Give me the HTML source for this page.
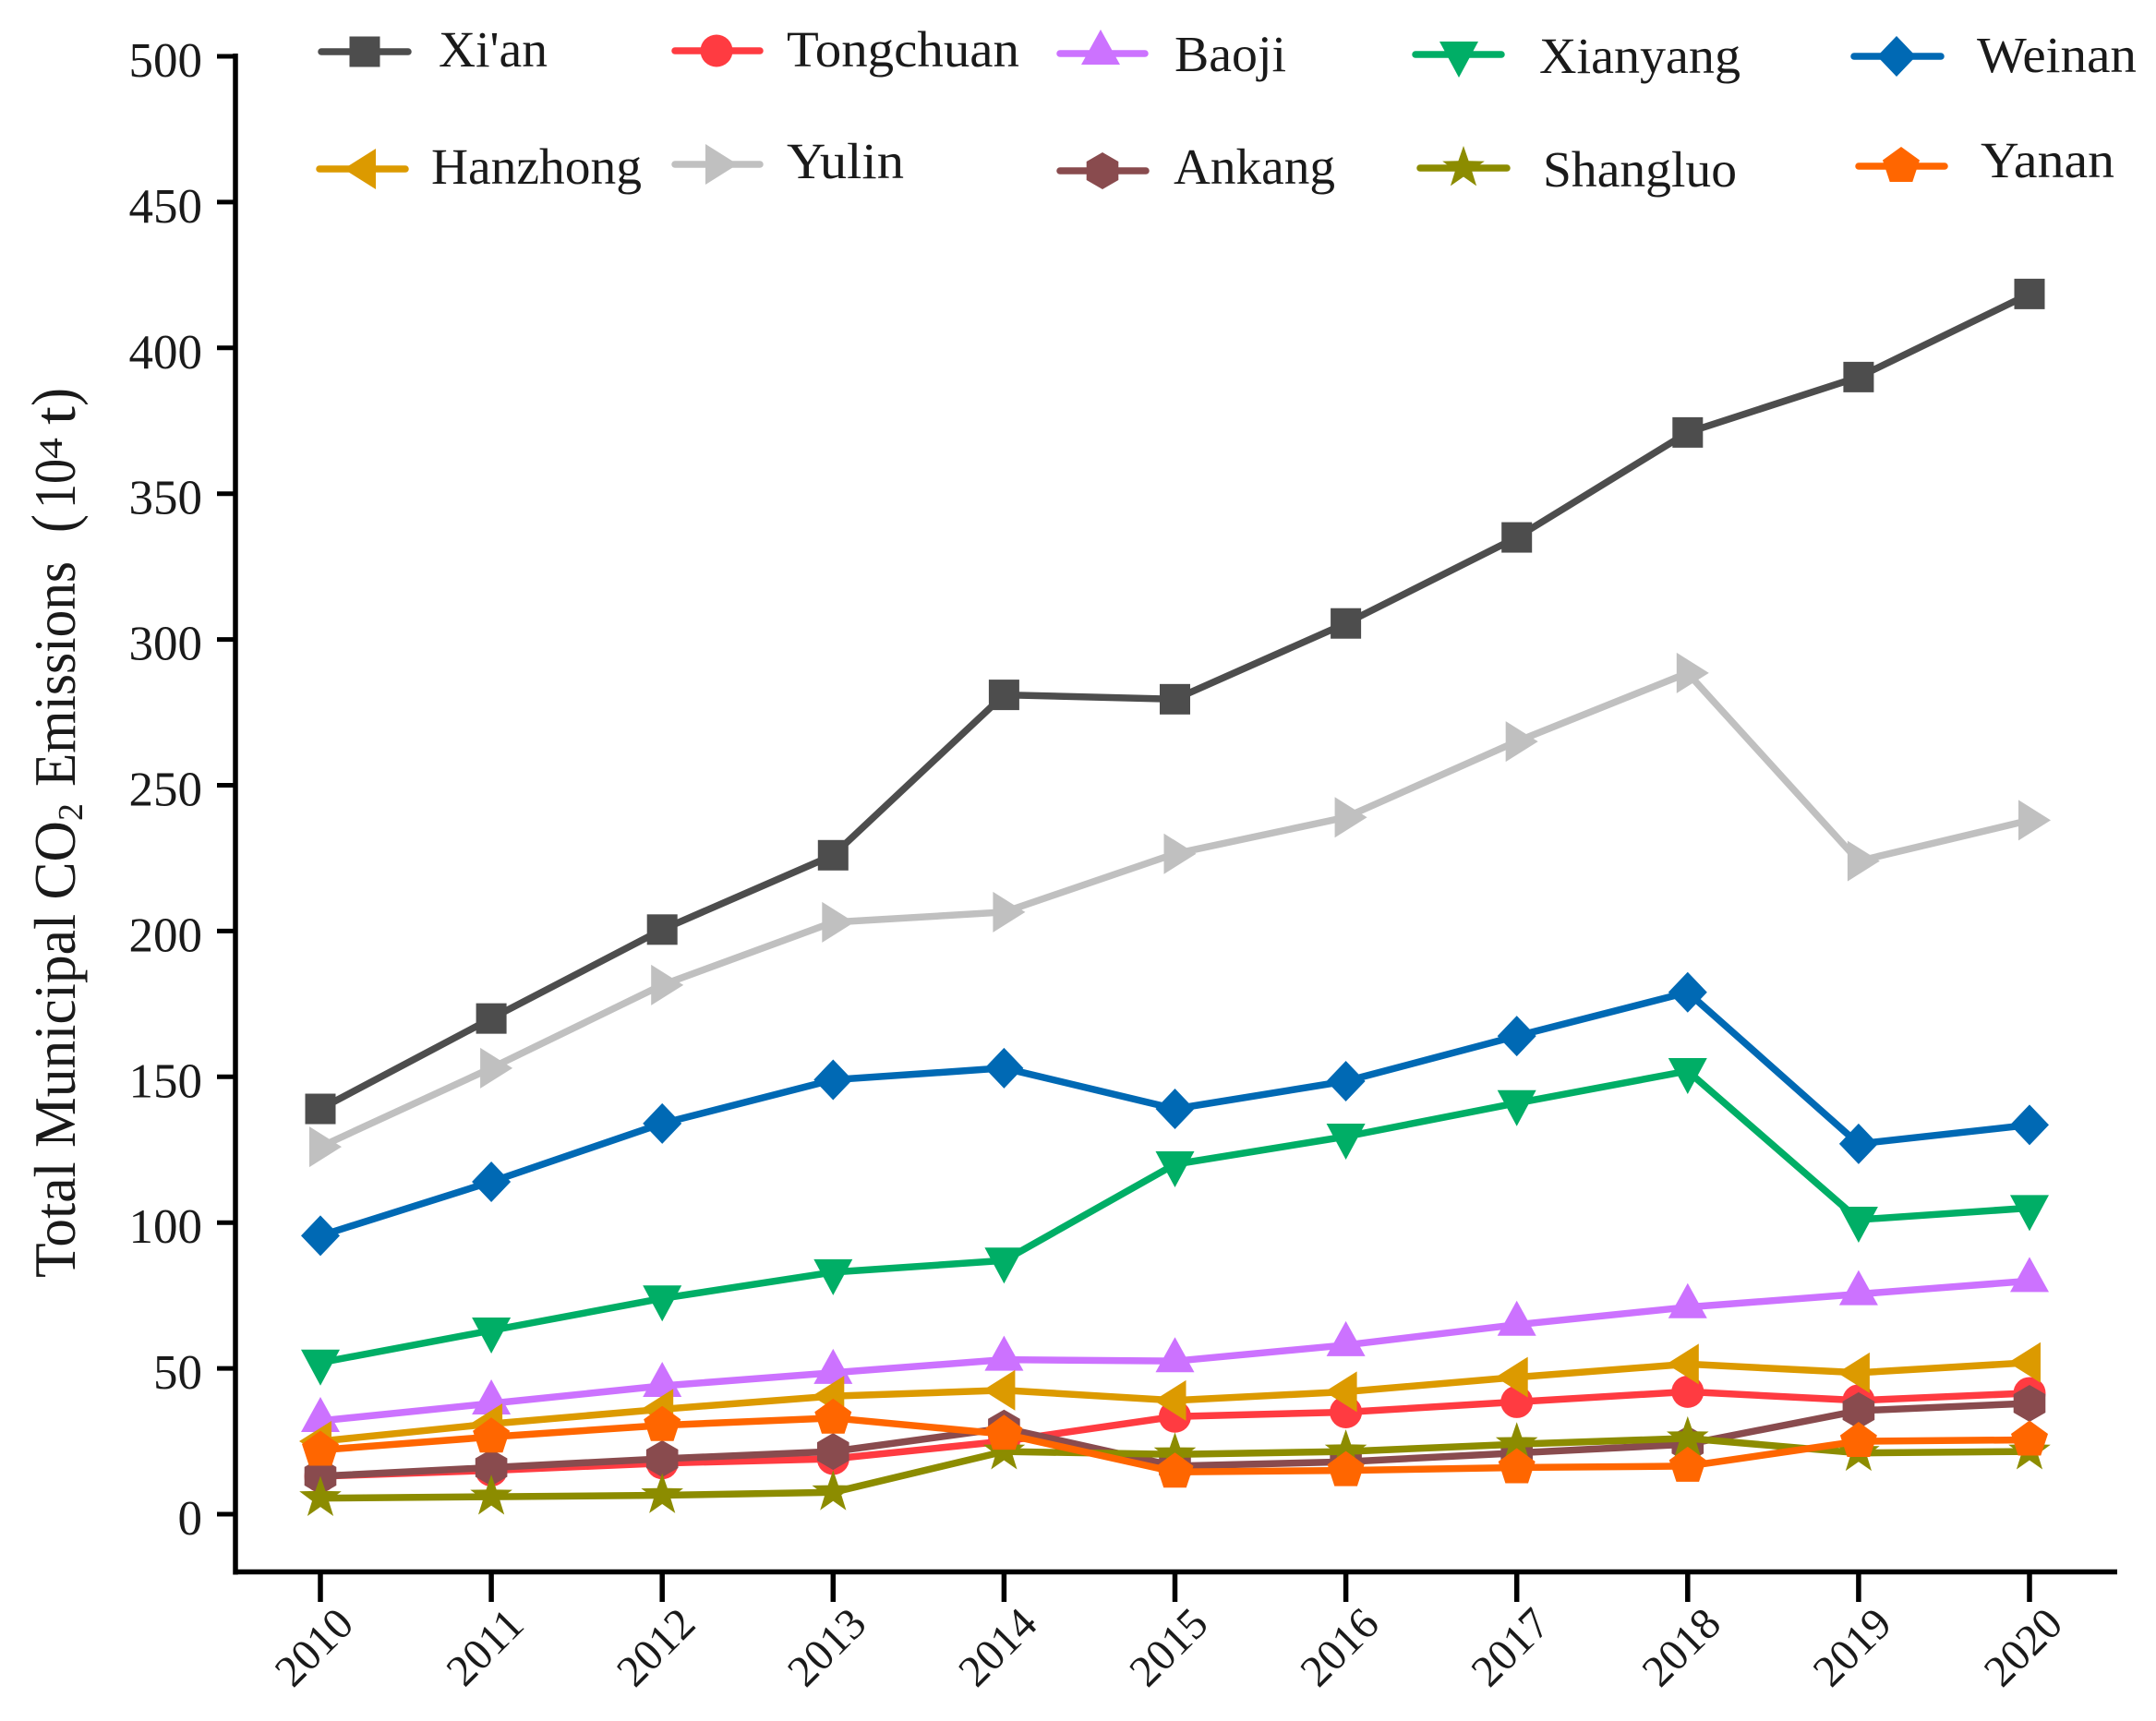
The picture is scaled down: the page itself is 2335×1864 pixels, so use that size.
<!DOCTYPE html>
<html lang="en">
<head>
<meta charset="utf-8">
<title>Total Municipal CO2 Emissions</title>
<style>
  html, body { margin: 0; padding: 0; background: #ffffff; }
  svg { display: block; }
  text { font-family: "Liberation Serif", serif; fill: #1a1a1a; }
</style>
</head>
<body>
<svg id="chart" xmlns="http://www.w3.org/2000/svg" width="2335" height="1864" viewBox="0 0 2335 1864">
  <rect x="0" y="0" width="2335" height="1864" fill="#ffffff"/>
  <g id="axes"></g>
  <g id="series"></g>
  <g id="legend"></g>
  <text transform="translate(81,0) rotate(-90)" font-size="63">
    <tspan x="-1384" textLength="495" lengthAdjust="spacingAndGlyphs">Total Municipal CO</tspan>
    <tspan x="-889" dy="8" font-size="38" textLength="19" lengthAdjust="spacingAndGlyphs">2</tspan>
    <tspan x="-852" dy="-8" textLength="244" lengthAdjust="spacingAndGlyphs">Emissions</tspan>
    <tspan x="-577" font-size="68" textLength="20" lengthAdjust="spacingAndGlyphs">(</tspan>
    <tspan x="-551" textLength="54" lengthAdjust="spacingAndGlyphs">10</tspan>
    <tspan x="-497" dy="-14" font-size="36" textLength="23" lengthAdjust="spacingAndGlyphs">4</tspan>
    <tspan x="-460" dy="14" textLength="20" lengthAdjust="spacingAndGlyphs">t</tspan>
    <tspan x="-440" font-size="68" textLength="20" lengthAdjust="spacingAndGlyphs">)</tspan>
  </text>
</svg>
<script>
const years = [2010, 2011, 2012, 2013, 2014, 2015, 2016, 2017, 2018, 2019, 2020];
const yTicks = [0, 50, 100, 150, 200, 250, 300, 350, 400, 450, 500];
const xian = [139, 170, 200.5, 226, 281, 279.5, 305.5, 335, 371, 390, 418.5];
const tongchuan = [13, 15, 17.5, 19, 25, 33.5, 35, 38.5, 42, 39, 41.5];
const baoji = [32, 38, 44, 48.5, 53, 52.5, 58, 65, 71, 75.5, 80];
const xianyang = [52, 63, 74, 83, 87, 120, 129.5, 141, 152, 101, 105];
const weinan = [95.5, 114, 134, 149, 153, 139, 148.5, 164, 179, 127, 133.5];
const hanzhong = [25, 31, 36, 40.5, 42.5, 39, 42, 47, 51.5, 48.5, 52];
const yulin = [126, 153, 181.5, 203, 206.5, 226.5, 239, 265, 288.5, 224, 238];
const ankang = [13, 16, 19, 21.5, 29.5, 16.5, 18, 21, 24, 35.5, 38];
const shangluo = [5.5, 6, 6.5, 7.5, 21.5, 20.5, 21.5, 24, 26, 21, 21.5];
const yanan = [22, 26.5, 30.5, 33, 27.5, 14.5, 15, 16, 16.5, 25, 25.5];

const NS = 'http://www.w3.org/2000/svg';
const xAxis = year => 347 + (year - 2010) * 185.1;
const yAxis = value => 1640 - value * 3.158;

function make(tag, attrs, parent) {
  const node = document.createElementNS(NS, tag);
  for (const key in attrs) node.setAttribute(key, attrs[key]);
  parent.appendChild(node);
  return node;
}

function polar(cx, cy, radii, count) {
  const pts = [];
  for (let i = 0; i < count; i++) {
    const a = -Math.PI / 2 + i * 2 * Math.PI / count;
    const r = radii[i % radii.length];
    pts.push((cx + r * Math.cos(a)).toFixed(1) + ',' + (cy + r * Math.sin(a)).toFixed(1));
  }
  return pts.join(' ');
}

function drawMarker(kind, cx, cy, color, parent) {
  if (kind === 'square') return make('rect', { x: cx - 16.5, y: cy - 16.5, width: 33, height: 33, fill: color }, parent);
  if (kind === 'circle') return make('circle', { cx: cx, cy: cy, r: 17.5, fill: color }, parent);
  let pts = '';
  if (kind === 'up') pts = `${cx},${cy - 26} ${cx + 21},${cy + 12} ${cx - 21},${cy + 12}`;
  if (kind === 'down') pts = `${cx},${cy + 25} ${cx + 21},${cy - 14} ${cx - 21},${cy - 14}`;
  if (kind === 'left') pts = `${cx - 23},${cy} ${cx + 12},${cy - 22} ${cx + 12},${cy + 22}`;
  if (kind === 'right') pts = `${cx + 23},${cy} ${cx - 12},${cy - 22} ${cx - 12},${cy + 22}`;
  if (kind === 'diamond') pts = `${cx},${cy - 22} ${cx + 21},${cy} ${cx},${cy + 22} ${cx - 21},${cy}`;
  if (kind === 'hexagon') pts = polar(cx, cy, [20], 6);
  if (kind === 'pentagon') pts = polar(cx, cy, [21], 5);
  if (kind === 'star') pts = polar(cx, cy, [24, 9.5], 10);
  return make('polygon', { points: pts, fill: color }, parent);
}

const axes = document.getElementById('axes');

const ySpine = make('line', { x1: 255, y1: 58, x2: 255, y2: 1705.5, stroke: '#000', 'stroke-width': 5.5 }, axes);



const xSpine = make('line', { x1: 252.5, y1: 1702.5, x2: 2293, y2: 1702.5, stroke: '#000', 'stroke-width': 5.5 }, axes);



yTicks.forEach(value => {
  const tick = make('line', { x1: 235, y1: yAxis(value), x2: 255, y2: yAxis(value), stroke: '#000', 'stroke-width': 5 }, axes);
  
  
  const label = make('text', { x: 219, y: yAxis(value) + 22, 'font-size': 53, 'text-anchor': 'end' }, axes);
  
  
  label.textContent = value;
});

years.forEach(year => {
  const tick = make('line', { x1: xAxis(year), y1: 1702.5, x2: xAxis(year), y2: 1735, stroke: '#000', 'stroke-width': 5.5 }, axes);
  
  
  const cx = xAxis(year) - 7;
  const label = make('text', { x: cx, y: 1784 + 16, 'font-size': 48, 'text-anchor': 'middle', transform: `rotate(-45 ${cx} 1784)` }, axes);
  
  
  label.textContent = year;
});

const seriesList = [
  { name: "Xi'an", slug: 'xian', values: xian, color: '#4d4d4d', marker: 'square' },
  { name: 'Tongchuan', slug: 'tongchuan', values: tongchuan, color: '#ff3b41', marker: 'circle' },
  { name: 'Baoji', slug: 'baoji', values: baoji, color: '#cc72ff', marker: 'up' },
  { name: 'Xianyang', slug: 'xianyang', values: xianyang, color: '#00ae66', marker: 'down' },
  { name: 'Weinan', slug: 'weinan', values: weinan, color: '#0069b4', marker: 'diamond' },
  { name: 'Hanzhong', slug: 'hanzhong', values: hanzhong, color: '#dc9a00', marker: 'left' },
  { name: 'Yulin', slug: 'yulin', values: yulin, color: '#c0c0c0', marker: 'right' },
  { name: 'Ankang', slug: 'ankang', values: ankang, color: '#894b4e', marker: 'hexagon' },
  { name: 'Shangluo', slug: 'shangluo', values: shangluo, color: '#8c8c00', marker: 'star' },
  { name: 'Yanan', slug: 'yanan', values: yanan, color: '#ff6600', marker: 'pentagon' }
];

const seriesRoot = document.getElementById('series');
seriesList.forEach(s => {
  const group = make('g', {}, seriesRoot);
  
  
  const points = s.values.map((v, i) => xAxis(years[i]).toFixed(1) + ',' + yAxis(v).toFixed(1)).join(' ');
  const line = make('polyline', { points: points, fill: 'none', stroke: s.color, 'stroke-width': 7.5, 'stroke-linejoin': 'round' }, group);
  
  
  s.values.forEach((v, i) => {
    const mark = drawMarker(s.marker, xAxis(years[i]), yAxis(v), s.color, group);
    
    
  });
});

function legendEntry(index, x1, x2, lineY, markX, textX, textY, textW) {
  const s = seriesList[index];
  const root = document.getElementById('legend');
  const group = make('g', {}, root);
  
  
  const swatch = make('line', { x1: x1 + 3, y1: lineY, x2: x2 - 3, y2: lineY, stroke: s.color, 'stroke-width': 7.5, 'stroke-linecap': 'round' }, group);
  
  
  const mark = drawMarker(s.marker, markX, lineY, s.color, group);
  
  
  const label = make('text', { x: textX, y: textY, 'font-size': 55, textLength: textW, lengthAdjust: 'spacingAndGlyphs' }, group);
  
  
  label.textContent = s.name;
}

legendEntry(0, 345, 445, 56, 395, 475, 72, 118);
legendEntry(1, 728, 826, 55, 776, 852, 72, 252);
legendEntry(2, 1145, 1243, 58, 1192, 1272, 77, 121);
legendEntry(3, 1530, 1629, 59, 1580, 1667, 79, 218);
legendEntry(4, 2005, 2105, 61, 2054, 2141, 78, 173);
legendEntry(5, 343, 442, 183, 395, 467, 199, 228);
legendEntry(6, 728, 826, 178, 776, 852, 193, 127);
legendEntry(7, 1145, 1244, 185, 1194, 1271, 199, 175);
legendEntry(8, 1535, 1635, 182, 1585, 1671, 202, 210);
legendEntry(9, 2010, 2109, 180, 2059, 2145, 192, 145);
</script>
</body>
</html>
